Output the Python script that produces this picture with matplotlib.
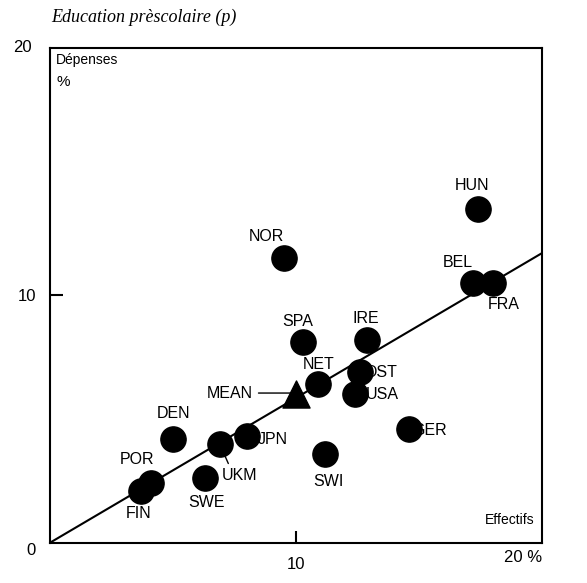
import matplotlib.pyplot as plt

# Country codes, enrolment share (Effectifs, %) and spending share (Dépenses, %)
countries = ["HUN", "BEL", "FRA", "NOR", "SPA", "IRE", "NET", "OST", "USA",
             "GER", "SWI", "DEN", "JPN", "UKM", "SWE", "POR", "FIN"]
effectifs = [17.4, 17.2, 18.0, 9.5, 10.3, 12.9, 10.9, 12.6, 12.4,
             14.6, 11.2, 5.0, 8.0, 6.9, 6.3, 4.1, 3.7]
depenses = [13.5, 10.5, 10.5, 11.5, 8.1, 8.2, 6.4, 6.9, 6.0,
            4.6, 3.6, 4.2, 4.3, 4.0, 2.6, 2.4, 2.1]

mean_x, mean_y = 10.0, 6.0
fit_x = [0, 20]
fit_y = [0, 11.7]

# label offsets in pixels (dx, dy)
offsets = {
    "HUN": (-6, 23), "BEL": (-15, 20), "FRA": (11, -22), "NOR": (-17, 22),
    "SPA": (-6, 21), "IRE": (-1, 21), "NET": (1, 20), "OST": (21, 0),
    "USA": (27, 0), "GER": (21, -2), "SWI": (3, -28), "DEN": (1, 25),
    "JPN": (26, -3), "UKM": (20, -32), "SWE": (2, -24), "POR": (-14, 24),
    "FIN": (-2, -23),
}

plt.rcParams['font.family'] = ['Liberation Sans', 'DejaVu Sans']

fig = plt.figure(figsize=(5.87, 5.83), dpi=100)
ax = fig.add_axes([0.085, 0.069, 0.838, 0.849])
ax.set_xlim(0, 20)
ax.set_ylim(0, 20)

ax.plot(fit_x, fit_y, color='black', lw=1.5, zorder=2)
ax.scatter(effectifs, depenses, s=330, color='black', zorder=3)
ax.scatter([mean_x], [mean_y], s=380, marker='^', color='black', zorder=3)

for c, x, y in zip(countries, effectifs, depenses):
    dx, dy = offsets[c]
    ax.annotate(c, (x, y), xytext=(dx, dy), textcoords='offset pixels',
                ha='center', va='center', fontsize=11.5, zorder=4)

# leader line for UKM
ax.annotate("", (6.9, 4.0), xytext=(7.3, 3.1),
            arrowprops=dict(arrowstyle='-', color='black', lw=1))
# MEAN label with leader
ax.annotate("MEAN", (mean_x - 0.2, mean_y + 0.05), xytext=(-38, 0),
            textcoords='offset pixels', ha='right', va='center', fontsize=11.5,
            arrowprops=dict(arrowstyle='-', color='black', lw=1,
                            shrinkA=2, shrinkB=0))

for sp in ax.spines.values():
    sp.set_linewidth(1.5)

ax.set_xticks([10])
ax.set_yticks([10])
ax.set_xticklabels(['10'], fontsize=12)
ax.set_yticklabels(['10'], fontsize=12)
ax.tick_params(direction='in', length=9, width=1.5, pad=10)
ax.text(-0.75, -0.3, "0", ha='center', va='center', fontsize=12,
        clip_on=False)
ax.text(-0.75, 20, "20", ha='right', va='center', fontsize=12, clip_on=False)
ax.text(20, -0.6, "20 %", ha='right', va='center', fontsize=12, clip_on=False)

ax.text(0.25, 19.5, "Dépenses", ha='left', va='center', fontsize=10)
ax.text(0.25, 18.6, "%", ha='left', va='center', fontsize=11)
ax.text(19.7, 0.9, "Effectifs", ha='right', va='center', fontsize=10)

fig.text(0.088, 0.97, "Education prèscolaire (p)", ha='left', va='center',
         fontsize=13, style='italic', family='Liberation Serif')

fig.savefig("out.png", dpi=100)
